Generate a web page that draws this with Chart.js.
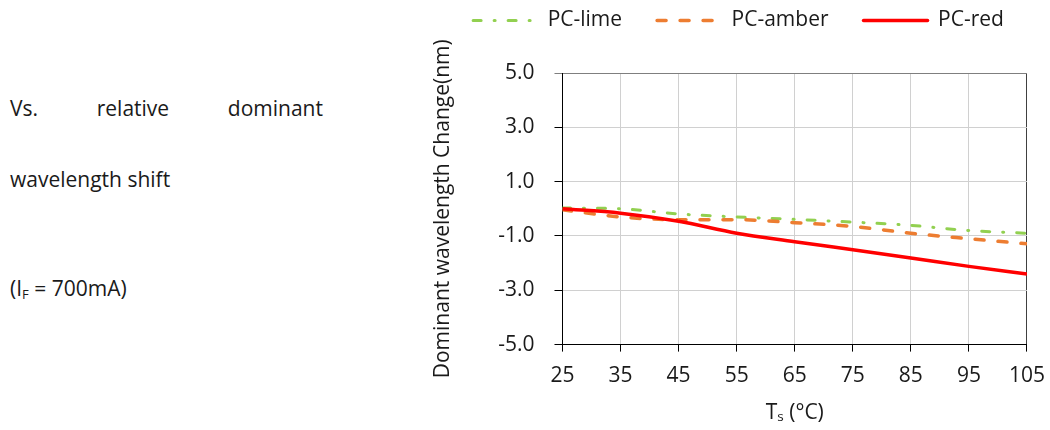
<!DOCTYPE html>
<html>
<head>
<meta charset="utf-8">
<script src="https://cdn.jsdelivr.net/npm/chart.js@4.4.1/dist/chart.umd.min.js"></script>
<style>
  body { margin: 0; background: #fff; font-family: "Open Sans", sans-serif; color: #1a1a1a; overflow: hidden; }
  #page { position: relative; width: 1050px; height: 430px; overflow: hidden; }
  .note { position: absolute; left: 10px; font-size: 21px; white-space: nowrap; }
  #l1 { top: 94px; width: 313px; display: flex; justify-content: space-between; }
  #l2 { top: 165px; }
  #l3 { top: 274px; }
  #l3 sub { font-size: 13px; vertical-align: -3px; }
  #box { position: absolute; left: 425px; top: 0; width: 632px; height: 430px; }
</style>
</head>
<body>
<div id="page">
  <div class="note" id="l1"><span>Vs.</span><span>relative</span><span>dominant</span></div>
  <div class="note" id="l2">wavelength shift</div>
  <div class="note" id="l3">(I<sub>F</sub> = 700mA)</div>
  <div id="box"><canvas id="myChart"></canvas></div>
</div>
<script>
const temps = [25, 35, 45, 55, 65, 75, 85, 95, 105]
const lime = [0.03, 0.0, -0.19, -0.3, -0.39, -0.49, -0.61, -0.8, -0.9]
const amber = [-0.04, -0.3, -0.4, -0.4, -0.51, -0.65, -0.9, -1.1, -1.29]
const red = [0.0, -0.16, -0.46, -0.9, -1.21, -1.51, -1.81, -2.12, -2.4]
const yTicks = [-5, -3, -1, 1, 3, 5]

const font = { family: '"Open Sans", sans-serif', size: 21 }

// extra space under the legend
const legendMargin = {
  id: 'legendMargin',
  beforeInit(chart) {
    const fit = chart.legend.fit
    chart.legend.fit = function () { fit.bind(chart.legend)(); this.height += 32 }
  }
}

const ctx = document.getElementById('myChart').getContext('2d')
const myChart = new Chart(ctx, {
  type: 'line',
  data: {
    datasets: [{
      label: 'PC-lime',
      data: temps.map((t, i) => ({ x: t, y: lime[i] })),
      borderColor: '#92d050',
      backgroundColor: '#92d050',
      borderWidth: 3,
      borderDash: [8, 13, 1, 13],
      borderCapStyle: 'round',
      order: 3
    }, {
      label: 'PC-amber',
      data: temps.map((t, i) => ({ x: t, y: amber[i] })),
      borderColor: '#ed7d31',
      backgroundColor: '#ed7d31',
      borderWidth: 3.5,
      borderDash: [9, 14],
      borderCapStyle: 'round',
      order: 2
    }, {
      label: 'PC-red',
      data: temps.map((t, i) => ({ x: t, y: red[i] })),
      borderColor: '#ff0000',
      backgroundColor: '#ff0000',
      borderWidth: 3.5,
      order: 1
    }]
  },
  options: {
    responsive: true,
    maintainAspectRatio: false,
    animation: false,
    elements: { point: { radius: 0 }, line: { cubicInterpolationMode: 'monotone' } },
    layout: { padding: { left: 0, right: 5, top: -25, bottom: 0 } },
    plugins: {
      legend: {
        position: 'top',
        labels: {
          font: font,
          color: '#1a1a1a',
          usePointStyle: true,
          pointStyle: 'line',
          pointStyleWidth: 64,
          padding: 35,
          sort: (a, b) => a.datasetIndex - b.datasetIndex,
          generateLabels: (chart) => Chart.defaults.plugins.legend.labels.generateLabels(chart).map((l) => {
            const ds = chart.data.datasets[l.datasetIndex]
            l.lineDash = ds.borderDash || []
            l.lineWidth = ds.borderWidth
            l.lineCap = 'round'
            return l
          })
        }
      },
      tooltip: { enabled: false }
    },
    scales: {
      x: {
        type: 'linear',
        min: 25,
        max: 105,
        afterBuildTicks: (s) => { s.ticks = temps.map((v) => ({ value: v })) },
        ticks: { font: font, color: '#1a1a1a', padding: 12 },
        grid: {
          color: (c) => c.tick && c.tick.value === 105 ? '#404040' : '#d0d0d0',
          tickColor: '#000',
          tickLength: 7
        },
        border: { color: '#000', width: 1 },
        title: { display: true, text: 'Tₛ (°C)', font: font, color: '#1a1a1a', padding: { top: 0, bottom: 4 } }
      },
      y: {
        min: -5,
        max: 5,
        afterBuildTicks: (s) => { s.ticks = yTicks.map((v) => ({ value: v })) },
        ticks: { font: font, color: '#1a1a1a', padding: 20, callback: (v) => v.toFixed(1) },
        grid: {
          color: (c) => c.tick && c.tick.value === 5 ? '#7f7f7f' : '#d0d0d0',
          tickColor: (c) => c.tick && c.tick.value === 5 ? '#7f7f7f' : '#000',
          tickLength: 8
        },
        border: { color: '#000', width: 1 },
        title: { display: true, text: 'Dominant wavelength Change(nm)', font: font, color: '#1a1a1a', padding: { top: 5, bottom: 23 } }
      }
    }
  },
  plugins: [legendMargin]
})
</script>
</body>
</html>
